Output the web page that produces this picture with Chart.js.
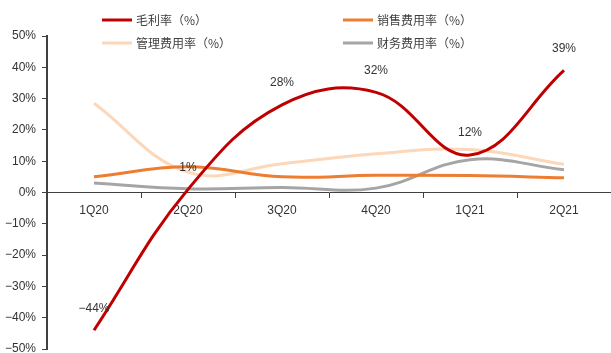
<!DOCTYPE html>
<html>
<head>
<meta charset="utf-8">
<script src="https://cdn.jsdelivr.net/npm/chart.js@4"></script>
<style>
  html, body { margin: 0; padding: 0; background: #fff; }
  #wrap { width: 611px; height: 353px; }
</style>
</head>
<body>
<div id="wrap"><canvas id="myChart" width="611" height="353"></canvas></div>
<script>
// 数据
const quarters = ['1Q20', '2Q20', '3Q20', '4Q20', '1Q21', '2Q21']
const maoli = [-44, 1, 28, 32, 12, 39]
const xiaoshou = [5.0, 8.2, 5.0, 5.5, 5.4, 4.7]
const guanli = [28.5, 6.5, 9.2, 12.4, 13.7, 9.0]
const caiwu = [3.0, 1.2, 1.6, 1.4, 10.5, 7.3]
const yTicks = [-50, -40, -30, -20, -10, 0, 10, 20, 30, 40, 50]

function pct(v) {
  return (v < 0 ? '\u2212' + (-v) : v) + '%'
}

// 图例（手动画，压在图上）
const legendPlugin = {
  id: 'customLegend',
  afterDraw(chart) {
    const c = chart.ctx
    const cols = [102, 343]
    const rows = [20, 43]
    chart.data.datasets.forEach((ds, i) => {
      const x = cols[i % 2]
      const y = rows[Math.floor(i / 2)]
      c.save()
      c.strokeStyle = ds.borderColor
      c.lineWidth = 3
      c.beginPath()
      c.moveTo(x, y)
      c.lineTo(x + 30, y)
      c.stroke()
      c.fillStyle = '#404040'
      c.font = '12px "Noto Sans CJK SC"'
      c.textBaseline = 'middle'
      c.textAlign = 'left'
      c.fillText(ds.label, x + 34, y)
      c.restore()
    })
  }
}

// 毛利率数据标签
const labelPlugin = {
  id: 'pointLabels',
  afterDatasetsDraw(chart) {
    const c = chart.ctx
    const meta = chart.getDatasetMeta(0)
    c.save()
    c.fillStyle = '#333'
    c.font = '12px "Liberation Sans"'
    c.textAlign = 'center'
    c.textBaseline = 'middle'
    meta.data.forEach((pt, i) => {
      c.fillText(pct(maoli[i]), pt.x, pt.y - 22)
    })
    c.restore()
  }
}

const ctx = document.getElementById('myChart')

const data = {
  labels: quarters,
  datasets: [
    { label: '毛利率（%）', data: maoli, borderColor: 'rgb(192, 0, 0)' },
    { label: '销售费用率（%）', data: xiaoshou, borderColor: 'rgb(237, 125, 49)' },
    { label: '管理费用率（%）', data: guanli, borderColor: 'rgb(252, 215, 185)' },
    { label: '财务费用率（%）', data: caiwu, borderColor: 'rgb(165, 165, 165)' }
  ]
}

const config = {
  type: 'line',
  data: data,
  options: {
    responsive: false,
    animation: false,
    layout: { padding: { top: 36, right: 0, bottom: 4, left: 0 } },
    elements: {
      line: { borderWidth: 3, tension: 0.4, fill: false },
      point: { radius: 0 }
    },
    plugins: {
      legend: { display: false },
      tooltip: { enabled: false }
    },
    scales: {
      x: {
        position: { y: 0 },
        offset: true,
        grid: {
          offset: true,
          drawOnChartArea: false,
          drawTicks: true,
          tickLength: 5,
          color: '#404040'
        },
        border: { color: '#404040', width: 1 },
        ticks: {
          color: '#333',
          font: { family: 'Liberation Sans', size: 12 },
          padding: 6,
          maxRotation: 0
        }
      },
      y: {
        min: -50,
        max: 50,
        afterBuildTicks(scale) {
          scale.ticks = yTicks.map(v => ({ value: v }))
        },
        afterFit(scale) {
          scale.width = 47
          scale.paddingTop = 0
          scale.paddingBottom = 0
        },
        grid: {
          drawOnChartArea: false,
          drawTicks: true,
          tickLength: 5,
          color: '#404040'
        },
        border: { color: '#404040', width: 2 },
        ticks: {
          color: '#333',
          font: { family: 'Liberation Sans', size: 12 },
          padding: 6,
          callback: v => pct(v)
        }
      }
    }
  },
  plugins: [labelPlugin, legendPlugin]
}

const myChart = new Chart(ctx, config)
</script>
</body>
</html>
